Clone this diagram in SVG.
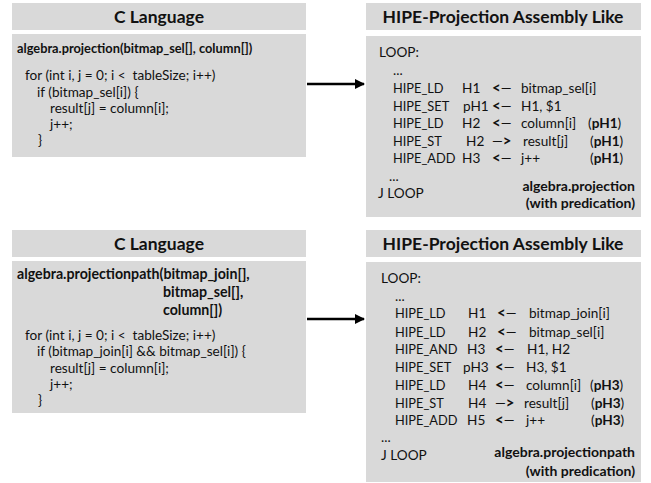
<svg xmlns="http://www.w3.org/2000/svg" width="651" height="483" viewBox="0 0 651 483">
<style>
.box{fill:#d9d9d9}
.t{font-family:Lato,"Liberation Sans",sans-serif;fill:#111}
.title{font-size:17.5px;font-weight:bold;text-anchor:middle}
.code{font-size:13.6px}
.op{font-size:12.8px}
.b{font-weight:bold}
.h{font-weight:bold;font-size:15px}
.r{text-anchor:end}
</style>
<defs>
<marker id="ah" viewBox="0 0 10 10" refX="9" refY="5" markerWidth="4.5" markerHeight="4" orient="auto" markerUnits="strokeWidth">
<path d="M0,0 L10,5 L0,10 z" fill="#000"/>
</marker>
</defs>
<rect width="651" height="483" fill="#fff"/>

<g id="c-lang-1">
<rect class="box" x="12" y="3" width="294" height="27"/>
<text class="t title" x="159" y="23">C Language</text>
<rect class="box" x="12" y="34" width="294" height="123"/>
<text class="t b" font-size="12.8" x="17" y="53">algebra.projection(bitmap_sel[], column[])</text>
<text class="t code" x="25" y="80" xml:space="preserve">for (int i, j = 0; i &lt;  tableSize; i++)</text>
<text class="t code" x="37" y="97">if (bitmap_sel[i]) {</text>
<text class="t code" x="50" y="113">result[j] = column[i];</text>
<text class="t code" x="50" y="129">j++;</text>
<text class="t code" x="38" y="145">}</text>
</g>

<g id="hipe-1">
<rect class="box" x="366" y="3" width="275" height="27"/>
<text class="t title" x="503" y="23">HIPE-Projection Assembly Like</text>
<rect class="box" x="366" y="36" width="275" height="181"/>
<g class="t code">
<text x="379" y="57">LOOP:</text>
<text x="393" y="75">...</text>
<text class="op" x="393" y="93">HIPE_LD</text><text x="462" y="93">H1</text><text x="492" y="93"><tspan class="h">&lt;</tspan>—</text><text x="521" y="93">bitmap_sel[i]</text>
<text class="op" x="393" y="111">HIPE_SET</text><text x="463" y="111">pH1</text><text x="492" y="111"><tspan class="h">&lt;</tspan>—</text><text x="521" y="111">H1, $1</text>
<text class="op" x="393" y="128">HIPE_LD</text><text x="462" y="128">H2</text><text x="492" y="128"><tspan class="h">&lt;</tspan>—</text><text x="521" y="128">column[i]</text><text x="588" y="128">(<tspan class="b">pH1</tspan>)</text>
<text class="op" x="393" y="146">HIPE_ST</text><text x="466" y="146">H2</text><text x="492" y="146">—<tspan class="h">&gt;</tspan></text><text x="523" y="146">result[j]</text><text x="590" y="146">(<tspan class="b">pH1</tspan>)</text>
<text class="op" x="393" y="163">HIPE_ADD</text><text x="462" y="163">H3</text><text x="492" y="163"><tspan class="h">&lt;</tspan>—</text><text x="521" y="163">j++</text><text x="590" y="163">(<tspan class="b">pH1</tspan>)</text>
<text x="389" y="181">...</text>
<text x="378" y="198">J LOOP</text>
<text class="b r" font-size="14" x="635" y="191">algebra.projection</text>
<text class="b r" font-size="14" x="635" y="208">(with predication)</text>
</g>
</g>

<g id="c-lang-2">
<rect class="box" x="12" y="230" width="294" height="27"/>
<text class="t title" x="159" y="250">C Language</text>
<rect class="box" x="12" y="261" width="294" height="152"/>
<text class="t b" font-size="14.2" x="17" y="279">algebra.projectionpath(bitmap_join[],</text>
<text class="t b" font-size="14.2" x="163" y="297">bitmap_sel[],</text>
<text class="t b" font-size="14.2" x="163" y="315">column[])</text>
<text class="t code" x="25" y="340" xml:space="preserve">for (int i, j = 0; i &lt;  tableSize; i++)</text>
<text class="t code" x="37" y="356">if (bitmap_join[i] &amp;&amp; bitmap_sel[i]) {</text>
<text class="t code" x="50" y="373">result[j] = column[i];</text>
<text class="t code" x="50" y="389">j++;</text>
<text class="t code" x="38" y="405">}</text>
</g>

<g id="hipe-2">
<rect class="box" x="366" y="230" width="275" height="27"/>
<text class="t title" x="503" y="250">HIPE-Projection Assembly Like</text>
<rect class="box" x="366" y="262" width="275" height="220"/>
<g class="t code">
<text x="381" y="283">LOOP:</text>
<text x="395" y="301">...</text>
<text class="op" x="395" y="318">HIPE_LD</text><text x="468" y="318">H1</text><text x="497" y="318"><tspan class="h">&lt;</tspan>—</text><text x="529" y="318">bitmap_join[i]</text>
<text class="op" x="395" y="337">HIPE_LD</text><text x="468" y="337">H2</text><text x="497" y="337"><tspan class="h">&lt;</tspan>—</text><text x="529" y="337">bitmap_sel[i]</text>
<text class="op" x="395" y="354">HIPE_AND</text><text x="467" y="354">H3</text><text x="495" y="354"><tspan class="h">&lt;</tspan>—</text><text x="527" y="354">H1, H2</text>
<text class="op" x="395" y="372">HIPE_SET</text><text x="463" y="372">pH3</text><text x="495" y="372"><tspan class="h">&lt;</tspan>—</text><text x="526" y="372">H3, $1</text>
<text class="op" x="395" y="390">HIPE_LD</text><text x="468" y="390">H4</text><text x="495" y="390"><tspan class="h">&lt;</tspan>—</text><text x="526" y="390">column[i]</text><text x="590" y="390">(<tspan class="b">pH3</tspan>)</text>
<text class="op" x="395" y="408">HIPE_ST</text><text x="468" y="408">H4</text><text x="495" y="408">—<tspan class="h">&gt;</tspan></text><text x="524" y="408">result[j]</text><text x="591" y="408">(<tspan class="b">pH3</tspan>)</text>
<text class="op" x="395" y="425">HIPE_ADD</text><text x="467" y="425">H5</text><text x="495" y="425"><tspan class="h">&lt;</tspan>—</text><text x="526" y="425">j++</text><text x="591" y="425">(<tspan class="b">pH3</tspan>)</text>
<text x="381" y="442">...</text>
<text x="381" y="460">J LOOP</text>
<text class="b r" font-size="14" x="635" y="457">algebra.projectionpath</text>
<text class="b r" font-size="14" x="635" y="476">(with predication)</text>
</g>
</g>

<g id="connectors" stroke="#000" stroke-width="2.5" fill="none">
<line x1="307" y1="84" x2="364" y2="84" marker-end="url(#ah)"/>
<line x1="307" y1="319" x2="364" y2="319" marker-end="url(#ah)"/>
</g>
</svg>
